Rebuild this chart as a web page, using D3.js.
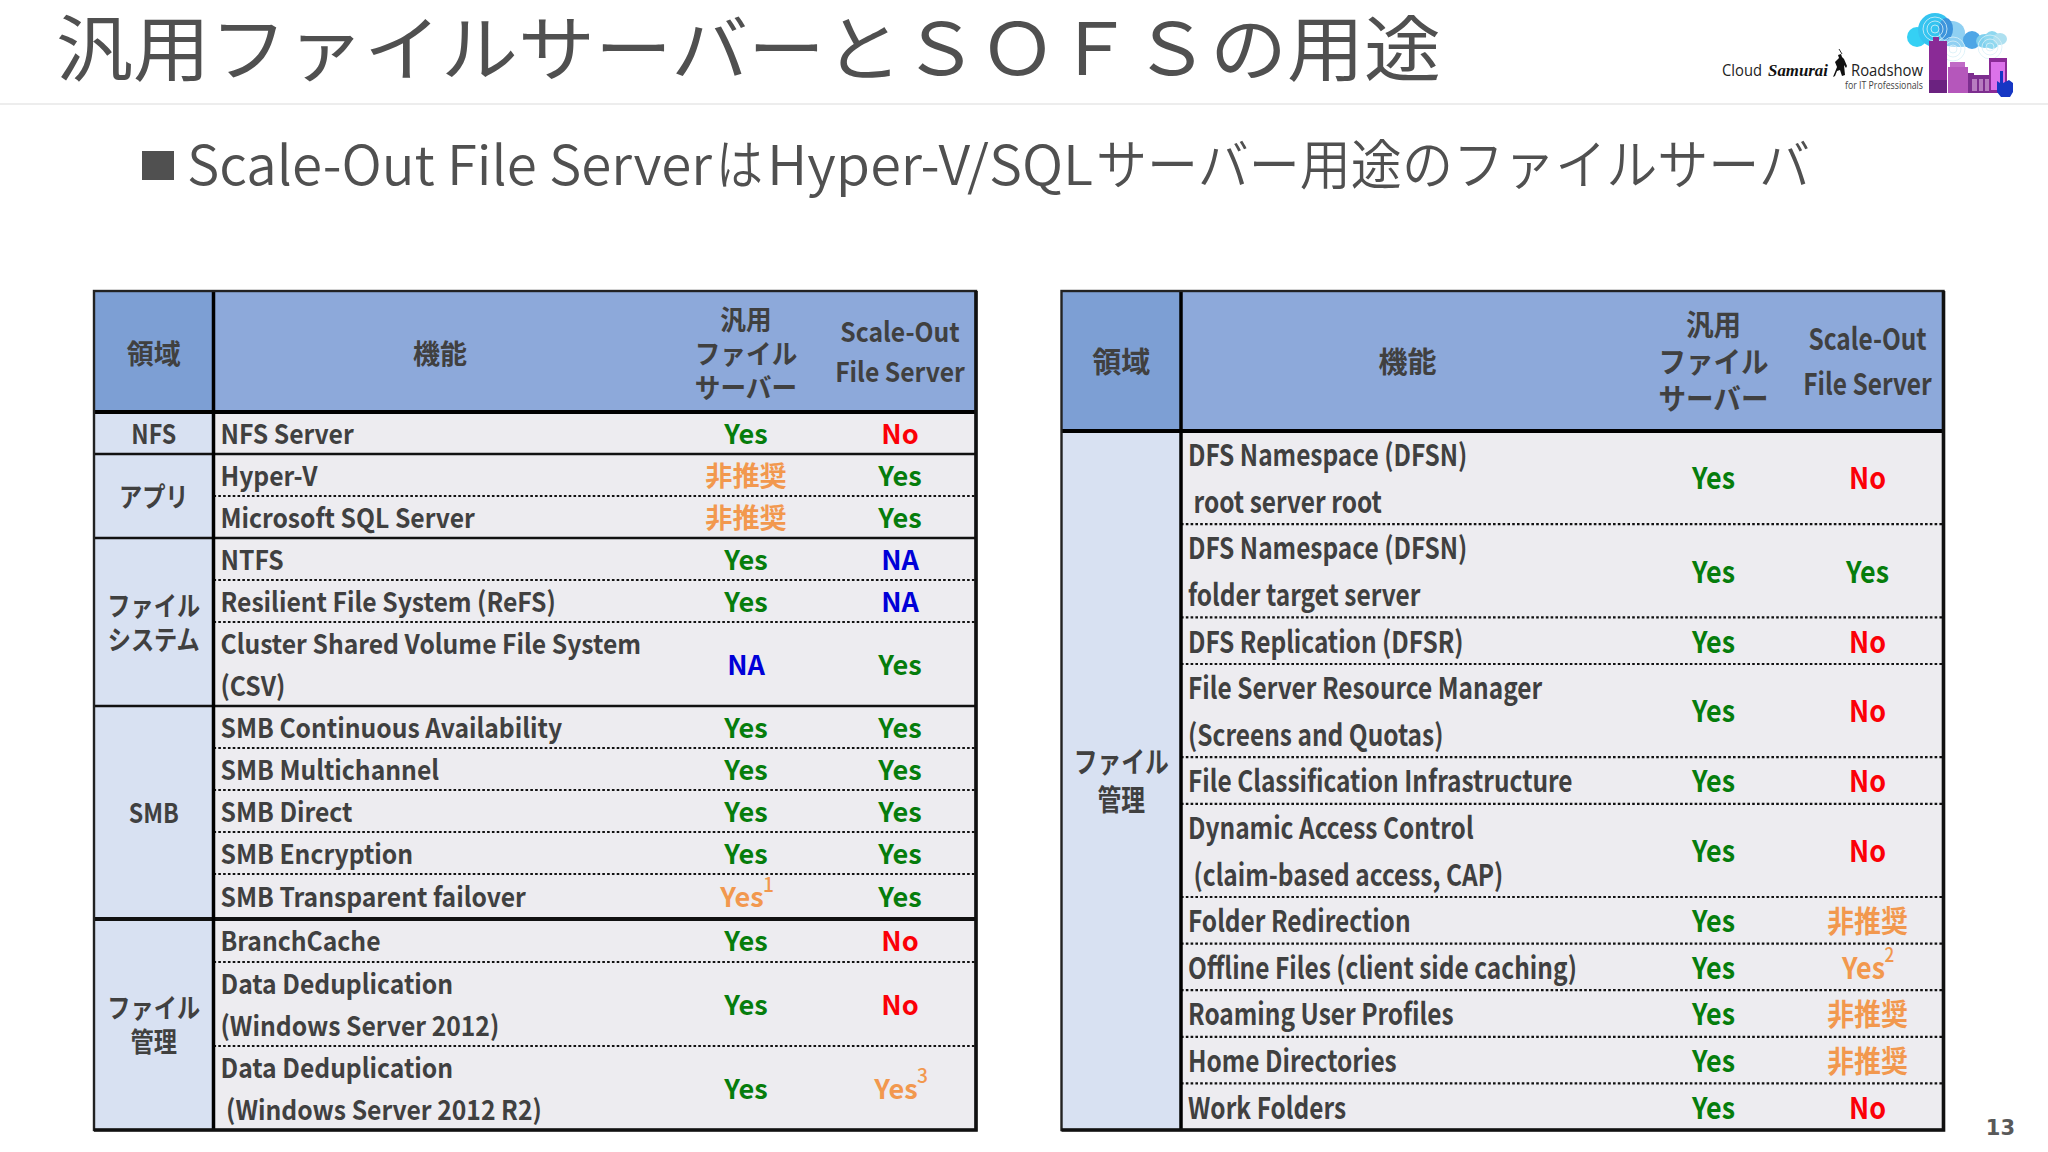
<!doctype html>
<html lang="ja">
<meta charset="utf-8">
<title>汎用ファイルサーバーとSOFSの用途</title>
<script src="https://cdn.jsdelivr.net/npm/d3@7"></script>
<style>
html, body { margin: 0; background: #fff; }
svg { display: block; }
text { font-family: "Noto Sans CJK JP", "Noto Sans", sans-serif; white-space: pre; }
</style>
<body>
<svg id="slide" width="2048" height="1152"></svg>
<script>
// Table contents. Leading spaces are in the original.
var headerArea = '領域';
var headerFeature = '機能';
var headerGeneral = ['汎用', 'ファイル', 'サーバー'];
var headerSofs = ['Scale-Out', 'File Server'];

var leftAreas = [['NFS'], ['アプリ'], ['ファイル', 'システム'], ['SMB'], ['ファイル', '管理']];
var leftAreaRows = [1, 2, 3, 5, 3];
var leftFeatures = [
  ['NFS Server'],
  ['Hyper-V'],
  ['Microsoft SQL Server'],
  ['NTFS'],
  ['Resilient File System (ReFS)'],
  ['Cluster Shared Volume File System', '(CSV)'],
  ['SMB Continuous Availability'],
  ['SMB Multichannel'],
  ['SMB Direct'],
  ['SMB Encryption'],
  ['SMB Transparent failover'],
  ['BranchCache'],
  ['Data Deduplication', '(Windows Server 2012)'],
  ['Data Deduplication', ' (Windows Server 2012 R2)']
];
var leftGeneral = ['Yes', '非推奨', '非推奨', 'Yes', 'Yes', 'NA', 'Yes', 'Yes', 'Yes', 'Yes', 'Yes1', 'Yes', 'Yes', 'Yes'];
var leftSofs = ['No', 'Yes', 'Yes', 'NA', 'NA', 'Yes', 'Yes', 'Yes', 'Yes', 'Yes', 'Yes', 'No', 'No', 'Yes3'];

var rightAreas = [['ファイル', '管理']];
var rightAreaRows = [11];
var rightFeatures = [
  ['DFS Namespace (DFSN)', ' root server root'],
  ['DFS Namespace (DFSN)', 'folder target server'],
  ['DFS Replication (DFSR)'],
  ['File Server Resource Manager', '(Screens and Quotas)'],
  ['File Classification Infrastructure'],
  ['Dynamic Access Control', ' (claim-based access, CAP)'],
  ['Folder Redirection'],
  ['Offline Files (client side caching)'],
  ['Roaming User Profiles'],
  ['Home Directories'],
  ['Work Folders']
];
var rightGeneral = ['Yes', 'Yes', 'Yes', 'Yes', 'Yes', 'Yes', 'Yes', 'Yes', 'Yes', 'Yes', 'Yes'];
var rightSofs = ['No', 'Yes', 'No', 'No', 'No', 'No', '非推奨', 'Yes2', '非推奨', '非推奨', 'No'];

var titleText = '汎用ファイルサーバーとＳＯＦＳの用途';
var subtitleParts = ['Scale-Out File Server', 'は', 'Hyper-V/SQL', 'サーバー用途のファイルサーバ'];

// status colours; a trailing digit marks a footnoted (orange) Yes
var statusColor = d3.scaleOrdinal()
  .domain(['Yes', 'No', 'NA', '非推奨', 'note'])
  .range(['#067d0c', '#fb0007', '#0000d8', '#f2984e', '#f2984e']);

var ink = '#404040';
var svg = d3.select('#slide');

function drawTable(opt) {
  var g = svg.append('g');
  var x0 = opt.x, x1 = x0 + 119.5, x2 = x0 + 882;
  var colGeneral = x0 + 652, colSofs = x0 + 806;

  // y runs over text lines, two-line rows simply take two units
  var lineCounts = opt.features.map(function(f) { return f.length; });
  var y = d3.scaleLinear().domain(opt.lineStops).range(opt.yStops);
  var starts = [0];
  lineCounts.forEach(function(n, i) { starts.push(starts[i] + n); });
  var top = opt.top, headerBottom = opt.yStops[0], bottom = opt.yStops[opt.yStops.length - 1];

  function label(parent, str, x, cy, anchor, size, sx) {
    return parent.append('text')
      .attr('transform', 'translate(' + x + ',' + cy + ') scale(' + sx + ',1)')
      .attr('text-anchor', anchor)
      .attr('dy', '0.36em')
      .attr('font-size', size)
      .attr('font-weight', 700)
      .attr('fill', ink)
      .text(str);
  }

  // backgrounds
  g.append('rect').attr('x', x0).attr('y', top).attr('width', x1 - x0).attr('height', headerBottom - top).attr('fill', '#7d9fd4');
  g.append('rect').attr('x', x1).attr('y', top).attr('width', x2 - x1).attr('height', headerBottom - top).attr('fill', '#8da9da');
  g.append('rect').attr('x', x0).attr('y', headerBottom).attr('width', x1 - x0).attr('height', bottom - headerBottom).attr('fill', '#d8e1f2');
  g.append('rect').attr('x', x1).attr('y', headerBottom).attr('width', x2 - x1).attr('height', bottom - headerBottom).attr('fill', '#edecf0');

  // header
  var headMid = (top + headerBottom) / 2 + opt.headShift;
  label(g, headerArea, (x0 + x1) / 2, headMid, 'middle', opt.headSize, 1);
  label(g, headerFeature, x0 + 346, headMid, 'middle', opt.headSize, 1);
  headerGeneral.forEach(function(t, i) {
    label(g, t, colGeneral, headMid + (i - 1) * opt.headLeading3, 'middle', opt.headSize, 0.95);
  });
  headerSofs.forEach(function(t, i) {
    label(g, t, colSofs, (top + headerBottom) / 2 + 1 + (i - 0.5) * opt.headLeading2, 'middle', opt.size, opt.sx);
  });

  // rows
  opt.features.forEach(function(lines, i) {
    var mid = y((starts[i] + starts[i + 1]) / 2) + 1;
    lines.forEach(function(t, j) {
      label(g, t, x1 + 7, y(starts[i] + j + 0.5) + 1, 'start', opt.size, opt.sx);
    });
    [[opt.general[i], colGeneral], [opt.sofs[i], colSofs]].forEach(function(c) {
      var note = /\d$/.test(c[0]) ? c[0].slice(-1) : null;
      var word = note ? c[0].slice(0, -1) : c[0];
      label(g, word, note ? c[1] - 4 : c[1], mid, 'middle', opt.size, opt.sx * 1.1)
        .attr('fill', statusColor(note ? 'note' : word));
      if (note) {
        label(g, note, c[1] + 17, mid - 13, 'start', 20, opt.sx * 1.05)
          .attr('fill', statusColor('note')).attr('font-weight', 500);
      }
    });
  });

  // row rules: solid at the end of an area, dotted inside one
  var row = 0, areaEnds = {};
  opt.areaRows.forEach(function(n, a) {
    var first = row;
    row += n;
    areaEnds[row] = a;
    var spanTop = y(starts[first]), spanBottom = y(starts[row]), mid = (spanTop + spanBottom) / 2;
    opt.areas[a].forEach(function(t, i) {
      var latin = /^[A-Z]+$/.test(t);
      label(g, t, (x0 + x1) / 2, mid + 1 + (i - (opt.areas[a].length - 1) / 2) * opt.areaLeading, 'middle', latin ? opt.size : opt.headSize, opt.areaSx);
    });
  });
  d3.range(1, opt.features.length).forEach(function(i) {
    var solid = i in areaEnds;
    g.append('line')
      .attr('x1', solid ? x0 : x1).attr('x2', x2)
      .attr('y1', y(starts[i])).attr('y2', y(starts[i]))
      .attr('stroke', '#111')
      .attr('stroke-width', i === opt.heavyRow ? 4 : solid ? 2.5 : 2.2)
      .attr('stroke-dasharray', solid ? null : '2.6 2.2');
  });

  // frame: left and top edges are thinner on the slide than right and bottom
  g.append('line').attr('x1', x1).attr('x2', x1).attr('y1', top).attr('y2', bottom).attr('stroke', '#000').attr('stroke-width', 3.5);
  g.append('line').attr('x1', x0).attr('x2', x2).attr('y1', headerBottom).attr('y2', headerBottom).attr('stroke', '#000').attr('stroke-width', 4);
  g.append('rect').attr('x', x0).attr('y', top).attr('width', x2 - x0).attr('height', bottom - top)
    .attr('fill', 'none').attr('stroke', '#222').attr('stroke-width', 2.4);
  g.append('path').attr('d', 'M' + x2 + ' ' + top + 'V' + bottom + 'H' + x0)
    .attr('fill', 'none').attr('stroke', '#111').attr('stroke-width', 3.6);
}

function drawLogo() {
  var g = svg.append('g');
  var clouds = [
    [1917, 37, 10, 10, '#35d0f4'], [1935, 30, 17, 17, '#35c4f0'], [1952, 33, 13, 12, '#8fd0f2'],
    [1960, 42, 24, 5, '#8fd0f2'], [1972, 40, 9, 9, '#4ea6e6'], [1985, 41, 9, 7, '#7fd0ee'],
    [1992, 40, 8, 9, '#8fd8f0'], [2000, 39, 7, 6, '#aee0f0'], [1946, 29, 7, 11, '#3d94dc']
  ];
  g.selectAll('ellipse').data(clouds).join('ellipse')
    .attr('cx', function(d) { return d[0]; }).attr('cy', function(d) { return d[1]; })
    .attr('rx', function(d) { return d[2]; }).attr('ry', function(d) { return d[3]; })
    .attr('fill', function(d) { return d[4]; });
  var rings = [[1935, 29], [1953, 49], [1990, 47]];
  [4, 8, 12].forEach(function(r) {
    g.selectAll(null).data(rings).join('circle')
      .attr('cx', function(d) { return d[0]; }).attr('cy', function(d) { return d[1]; })
      .attr('r', r).attr('fill', 'none').attr('stroke', '#d8f0f8').attr('stroke-width', 0.8);
  });
  var blocks = [
    [1929, 41, 18, 52, '#8a2a96'], [1933, 37, 6, 5, '#8a2a96'], [1929, 80, 18, 13, '#6b2280'],
    [1950, 62, 15, 6, '#c06ac6'], [1948, 67, 20, 26, '#b557bb'], [1968, 73, 6, 20, '#7d2e8f'],
    [1974, 75, 15, 18, '#7d2e8f'], [1972, 79, 5, 12, '#b77cc0'], [1979, 79, 4, 12, '#b77cc0'], [1985, 79, 4, 12, '#b77cc0'],
    [1989, 58, 18, 35, '#8a2a96'], [1991, 62, 14, 28, '#dc72ea']
  ];
  g.selectAll('rect').data(blocks).join('rect')
    .attr('x', function(d) { return d[0]; }).attr('y', function(d) { return d[1]; })
    .attr('width', function(d) { return d[2]; }).attr('height', function(d) { return d[3]; })
    .attr('fill', function(d) { return d[4]; });
  g.append('path').attr('d', 'M1997 92V81l3 2V71h3v12l6-3 4 3v9l-3 5h-9z').attr('fill', '#1637c4');

  function logoText(str, x, y, size, w, font) {
    return g.append('text').attr('x', x).attr('y', y).attr('font-size', size)
      .style('font-family', font || '"Open Sans", sans-serif')
      .attr('fill', '#222').attr('textLength', w).attr('lengthAdjust', 'spacingAndGlyphs').text(str);
  }
  logoText('Cloud', 1722, 76, 17, 40);
  logoText('Samurai', 1768, 76, 17, 60, '"Liberation Serif", serif').attr('font-style', 'italic').attr('font-weight', 700).attr('fill', '#111');
  g.append('path').attr('d', 'M1833 77l4-10 -2-5 4-4 -1-3 3-1 1 3 2 2 3 7 -1 2 -2-3 1 10 -3 1 -2-6 -3 1 -2 5z').attr('fill', '#111');
  g.append('line').attr('x1', 1842).attr('y1', 54).attr('x2', 1839).attr('y2', 49).attr('stroke', '#333');
  logoText('Roadshow', 1851, 76, 17, 72);
  logoText('for IT Professionals', 1845, 89, 10.5, 78).attr('fill', '#444');
}

// slide heading
svg.append('text').attr('x', 56).attr('y', 75)
  .attr('font-size', 72).attr('font-weight', 400).attr('fill', '#505050')
  .attr('textLength', 1385).attr('lengthAdjust', 'spacingAndGlyphs')
  .text(titleText);
svg.append('line').attr('x1', 0).attr('x2', 2048).attr('y1', 104).attr('y2', 104).attr('stroke', '#ededed').attr('stroke-width', 2);
svg.append('rect').attr('x', 142).attr('y', 151).attr('width', 32).attr('height', 29).attr('fill', '#505050');

// each run of the sub-heading has its own measured extent on the slide
var subtitleExtents = [[187, 525], [716, 47], [767, 326], [1096, 714]];
svg.selectAll('text.sub').data(subtitleParts).join('text')
  .attr('class', 'sub')
  .attr('x', function(d, i) { return subtitleExtents[i][0]; })
  .attr('y', 185)
  .attr('font-size', 54).attr('font-weight', 350).attr('fill', '#505050')
  .attr('textLength', function(d, i) { return subtitleExtents[i][1]; })
  .attr('lengthAdjust', 'spacingAndGlyphs')
  .text(function(d) { return d; });

drawLogo();

drawTable({
  x: 94, top: 291, lineStops: [0, 11, 12, 13, 17], yStops: [412, 874, 919, 962, 1130],
  areas: leftAreas, areaRows: leftAreaRows, features: leftFeatures, general: leftGeneral, sofs: leftSofs,
  heavyRow: 11, size: 27, sx: 0.915, headSize: 27, areaSx: 0.86, headShift: 3, headLeading3: 34, headLeading2: 40, areaLeading: 34
});
drawTable({
  x: 1061.5, top: 291, lineStops: [0, 15], yStops: [431, 1130],
  areas: rightAreas, areaRows: rightAreaRows, features: rightFeatures, general: rightGeneral, sofs: rightSofs,
  heavyRow: -1, size: 30, sx: 0.815, headSize: 29, areaSx: 0.82, headShift: 2, headLeading3: 37, headLeading2: 45, areaLeading: 38
});

// page number
svg.append('text').attr('x', 2015).attr('y', 1135).attr('text-anchor', 'end')
  .attr('font-size', 21).attr('font-weight', 700).attr('fill', '#595959')
  .style('font-family', '"DejaVu Sans", sans-serif').text('13');
</script>
</body>
</html>
